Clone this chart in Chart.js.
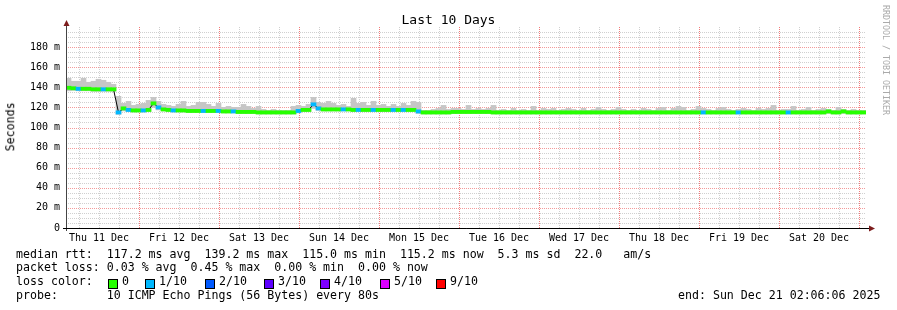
<!DOCTYPE html>
<html><head><meta charset="utf-8">
<script src="https://cdn.jsdelivr.net/npm/chart.js@4.4.1/dist/chart.umd.min.js"></script>
<style>
html,body{margin:0;padding:0;background:#fff;}
#wrap{position:relative;width:897px;height:310px;overflow:hidden;background:#fff;}
canvas{position:absolute;left:0;top:0;}
.t{position:absolute;font-family:'DejaVu Sans Mono',monospace;color:#000;white-space:pre;line-height:1;font-size:11.6px;}
.box{position:absolute;width:8px;height:8px;border:1px solid #000;top:279px;}
</style></head>
<body><div id="wrap">
<canvas id="c" width="897" height="310"></canvas>
<div class="t" style="left:0;width:897px;text-align:center;top:13px;font-size:13px;">Last 10 Days</div>
<div class="t" style="left:-19px;width:60px;text-align:center;top:121px;transform:rotate(-90deg);">Seconds</div>
<div class="t" style="left:882px;top:5px;font-size:8.3px;color:#aaa;writing-mode:vertical-rl;">RRDTOOL / TOBI OETIKER</div>
<div class="t" style="left:16px;top:248.5px;">median rtt:  117.2 ms avg  139.2 ms max  115.0 ms min  115.2 ms now  5.3 ms sd  22.0   am/s</div>
<div class="t" style="left:16px;top:262.3px;">packet loss: 0.03 % avg  0.45 % max  0.00 % min  0.00 % now</div>
<div class="t" style="left:16px;top:276.2px;">loss color:</div>
<div id="lossLegend"></div>
<div class="t" style="left:16px;top:290px;">probe:       10 ICMP Echo Pings (56 Bytes) every 80s</div>
<div class="t" style="left:678px;top:290px;">end: Sun Dec 21 02:06:06 2025</div>
</div>
<script>
// ---- data (10 days, 160 buckets of 1.5 h, start Thu Dec 11 02:06:06 2025) ----
const hoursSpan = 240;
const firstMidnightHour = 21.8983; // Fri 12 Dec 00:00 relative to start
const dayLabels = ['Thu 11 Dec','Fri 12 Dec','Sat 13 Dec','Sun 14 Dec','Mon 15 Dec','Tue 16 Dec','Wed 17 Dec','Thu 18 Dec','Fri 19 Dec','Sat 20 Dec'];

const medianRtt = [
139.5,139,138.5,138.5,138.5,138,138,138,138,138,
115,119,117.5,117,117,117,117.5,124,120,118,
117.5,117,117,117,116.5,116.5,116.5,116.5,116.5,116.5,
116.5,116,116,116,115.5,115.5,115.5,115.5,115,115,
115,115,115,115,115,115,116.5,117.5,117.5,123,
119,118,118,118,118,118,118,117.5,117.5,117.5,
117.5,117.5,117.5,117.5,117.5,117.5,117.5,117.5,117.5,117.5,
116,115,115,115,115,115,115,115.5,115.5,115.5,
115.5,115.5,115.5,115.5,115.5,115,115,115,115,115,
115,115,115,115,115,115,115,115,115,115,
115,115,115,115,115,115,115,115,115,115,
115,115,115,115,115,115,115,115,115,115,
115,115,115,115,115,115,115,115,115,115,
115,115,115,115,115,115,115,115,115,115,
115,115,115,115,115,115,115,115,115,115,
115,115,116,115,115,116,115,115,115,115
];
const smokeHigh = [
149,146,146,149,145,146,148,147,145,143,
131,124,126,122,123,124,127,130,126,123,
122,121,123,126,121,122,125,125,123,121,
124,120,121,120,120,123,121,119,121,118,
117,118,117,117,117,121,122,121,123,130,
125,124,126,124,122,123,121,129,124,125,
122,126,122,123,121,123,121,124,122,126,
125,117,117,118,119,122,118,119,119,118,
122,118,119,118,119,122,117,118,117,119,
117,118,117,121,117,119,118,119,117,118,
119,118,117,119,117,118,120,118,117,118,
120,118,117,118,117,119,118,117,119,120,
117,119,121,120,117,118,121,119,118,117,
119,120,118,117,118,119,118,117,119,118,
119,122,117,118,118,121,117,118,120,117,
118,119,118,117,120,118,117,118,117,117
];
const smokeLow = [
136.5,137,136.5,136.5,136.5,136,136,136,136,136,
113,116.5,116,115.5,115.5,115.5,116,120,117.5,116.5,
116,115.5,115.5,115.5,115,115,115,115,115,115,
115,114.5,114.5,114.5,114,114,114,114,113.5,113.5,
113.5,113.5,113.5,113.5,113.5,113.5,114.5,116,116,119,
117,116.5,116.5,116.5,116.5,116.5,116.5,116,116,116,
116,116,116,116,116,116,116,116,116,116,
114,113.5,113.5,113.5,113.5,113.5,113.5,114,114,114,
114,114,114,114,114,113.5,113.5,113.5,113.5,113.5,
113.5,113.5,113.5,113.5,113.5,113.5,113.5,113.5,113.5,113.5,
113.5,113.5,113.5,113.5,113.5,113.5,113.5,113.5,113.5,113.5,
113.5,113.5,113.5,113.5,113.5,113.5,113.5,113.5,113.5,113.5,
113.5,113.5,113.5,113.5,113.5,113.5,113.5,113.5,113.5,113.5,
113.5,113.5,113.5,113.5,113.5,113.5,113.5,113.5,113.5,113.5,
113.5,113.5,113.5,113.5,113.5,113.5,113.5,113.5,113.5,113.5,
113.5,113.5,114,113.5,113.5,114,113.5,113.5,113.5,113.5
];
// packet loss per bucket, in tenths (x/10)
const lossTenths = [
0,0,1,0,0,0,0,1,0,0,
1,0,1,0,0,1,0,0,1,0,
0,1,0,0,0,0,0,1,0,0,
1,0,0,1,0,0,0,0,0,0,
0,0,0,0,0,0,1,0,0,1,
1,0,0,0,0,1,0,0,1,0,
0,1,0,0,0,1,0,1,0,0,
1,0,0,0,0,0,0,0,0,0,
0,0,0,0,0,0,0,0,0,0,
0,0,0,0,0,0,0,0,0,0,
0,0,0,0,0,0,0,0,0,0,
0,0,0,0,0,0,0,0,0,0,
0,0,0,0,0,0,0,1,0,0,
0,0,0,0,1,0,0,0,0,0,
0,0,0,0,1,0,0,0,0,0,
0,0,0,0,0,0,0,0,0,0
];
const lossKeys = [0,1,2,3,4,5,9];
const lossNames = ['0','1/10','2/10','3/10','4/10','5/10','9/10'];
const lossColorList = ['#26ff00','#00b8ff','#0059ff','#5e00ff','#7e00ff','#dd00ff','#ff0000'];

// ---- legend boxes ----
const boxX = [108,145,205,264,320,380,436];
const lbl = document.getElementById('lossLegend');
lossKeys.forEach((k,i)=>{
  const b=document.createElement('div'); b.className='box'; b.style.left=boxX[i]+'px'; b.style.background=lossColorList[i]; lbl.appendChild(b);
  const t=document.createElement('div'); t.className='t'; t.style.left=(boxX[i]+14)+'px'; t.style.top='276.2px'; t.textContent=lossNames[i]; lbl.appendChild(t);
});

function lossColor(v){ const i = lossKeys.indexOf(v); return i>=0 ? lossColorList[i] : lossColorList[lossColorList.length-1]; }

const bucketLabels = medianRtt.map((_,i)=>String(i));
const majorGridH = '#f39a9a';
const majorGridV = '#f27a7a';
const minorGrid = '#d0d0d0';
const FONT = {family:'DejaVu Sans Mono', size:10};

// grid drawn through the scales (dotted, rrdtool style)
const dottedGrid = {
  id:'dottedGrid',
  beforeDatasetsDraw(chart){
    const {ctx, chartArea:a, scales} = chart;
    const xs = scales.xg, ys = scales.y;
    ctx.save();
    ctx.lineWidth = 1;
    ctx.setLineDash([1,1]);
    // minor lines
    ctx.strokeStyle = minorGrid;
    ctx.beginPath();
    ys.ticks.forEach(t => {
      if (t.value === 0 || t.value % 20 === 0) return;
      const y = Math.round(ys.getPixelForValue(t.value)) + 0.5;
      ctx.moveTo(a.left, y); ctx.lineTo(a.right, y);
    });
    xs.ticks.forEach((t,i) => {
      if (i % 4 === 3) return;
      const x = Math.round(xs.getPixelForValue(t.value)) + 0.5;
      ctx.moveTo(x, a.top); ctx.lineTo(x, a.bottom);
    });
    ctx.stroke();
    // major horizontal
    ctx.strokeStyle = majorGridH;
    ctx.beginPath();
    ys.ticks.forEach(t => {
      if (t.value === 0 || t.value % 20 !== 0) return;
      const y = Math.round(ys.getPixelForValue(t.value)) + 0.5;
      ctx.moveTo(a.left, y); ctx.lineTo(a.right, y);
    });
    ctx.stroke();
    // major vertical (midnights)
    ctx.strokeStyle = majorGridV;
    ctx.beginPath();
    xs.ticks.forEach((t,i) => {
      if (i % 4 !== 3) return;
      const x = Math.round(xs.getPixelForValue(t.value)) + 0.5;
      ctx.moveTo(x, a.top); ctx.lineTo(x, a.bottom);
    });
    ctx.stroke();
    ctx.restore();
  }
};

const axisArrows = {
  id:'axisArrows',
  afterDraw(chart){
    const {ctx, chartArea:a} = chart;
    ctx.save();
    ctx.lineWidth=1;
    ctx.strokeStyle='#444';
    ctx.beginPath(); ctx.moveTo(a.left+0.5, a.bottom+3); ctx.lineTo(a.left+0.5, a.top-2); ctx.stroke();
    ctx.strokeStyle='#000';
    ctx.beginPath(); ctx.moveTo(a.left-3, a.bottom+0.5); ctx.lineTo(a.right+4, a.bottom+0.5); ctx.stroke();
    ctx.fillStyle='#7d1d1d';
    ctx.beginPath(); ctx.moveTo(a.left+0.5, a.top-7); ctx.lineTo(a.left+3.5, a.top-1); ctx.lineTo(a.left-2.5, a.top-1); ctx.closePath(); ctx.fill();
    ctx.beginPath(); ctx.moveTo(a.right+9, a.bottom+0.5); ctx.lineTo(a.right+3, a.bottom-2.5); ctx.lineTo(a.right+3, a.bottom+3.5); ctx.closePath(); ctx.fill();
    ctx.restore();
  }
};

new Chart(document.getElementById('c'), {
  type:'bar',
  data:{
    labels: bucketLabels,
    datasets:[
      { type:'bar', label:'smoke', data: smokeLow.map((l,i)=>[l, smokeHigh[i]]), backgroundColor:'#c6c6c6', borderWidth:0,
        barPercentage:1, categoryPercentage:1, grouped:false, xAxisID:'x', yAxisID:'y', order:3 },
      { type:'line', label:'median', data: medianRtt, borderColor:'#000', borderWidth:1, pointRadius:0, tension:0,
        xAxisID:'x', yAxisID:'y', order:2 },
      { type:'bar', label:'loss', data: medianRtt.map(m=>[m-1.6, m+1.6]),
        backgroundColor: lossTenths.map(lossColor), borderWidth:0,
        barPercentage:1, categoryPercentage:1, grouped:false, xAxisID:'x', yAxisID:'y', order:1 }
    ]
  },
  options:{
    responsive:false, animation:false, devicePixelRatio:1,
    layout:{padding:{left:0, right:31, top:27, bottom:62}},
    plugins:{legend:{display:false}, tooltip:{enabled:false}},
    scales:{
      x:{ type:'category', display:false, offset:true, stacked:false },
      xg:{ type:'linear', position:'bottom', min:0, max:hoursSpan, offset:false,
        afterBuildTicks: s => { const t=[]; for(let h=firstMidnightHour-18; h<hoursSpan; h+=6) t.push({value:h}); s.ticks=t; },
        afterFit: s => { s.height = 20; },
        grid:{ display:false, offset:false, drawTicks:false },
        border:{ display:true, color:'#000', width:1 },
        ticks:{ autoSkip:false, maxRotation:0, minRotation:0, padding:4, color:'#000', font:FONT,
          callback:(v,i)=> (i % 4 === 1) ? dayLabels[(i-1)/4] : '' }
      },
      y:{ min:0, max:200,
        afterBuildTicks: s => { const t=[]; for(let v=0; v<200; v+=5) t.push({value:v}); s.ticks=t; },
        afterFit: s => { s.width = 66; },
        grid:{ display:false, drawTicks:false },
        border:{ display:true, color:'#444', width:1 },
        ticks:{ autoSkip:false, padding:6, color:'#000', font:FONT,
          callback: v => (v % 20 === 0) ? (v === 0 ? '0' : v + ' m') : '' }
      }
    }
  },
  plugins:[dottedGrid, axisArrows]
});
</script>
</body></html>
